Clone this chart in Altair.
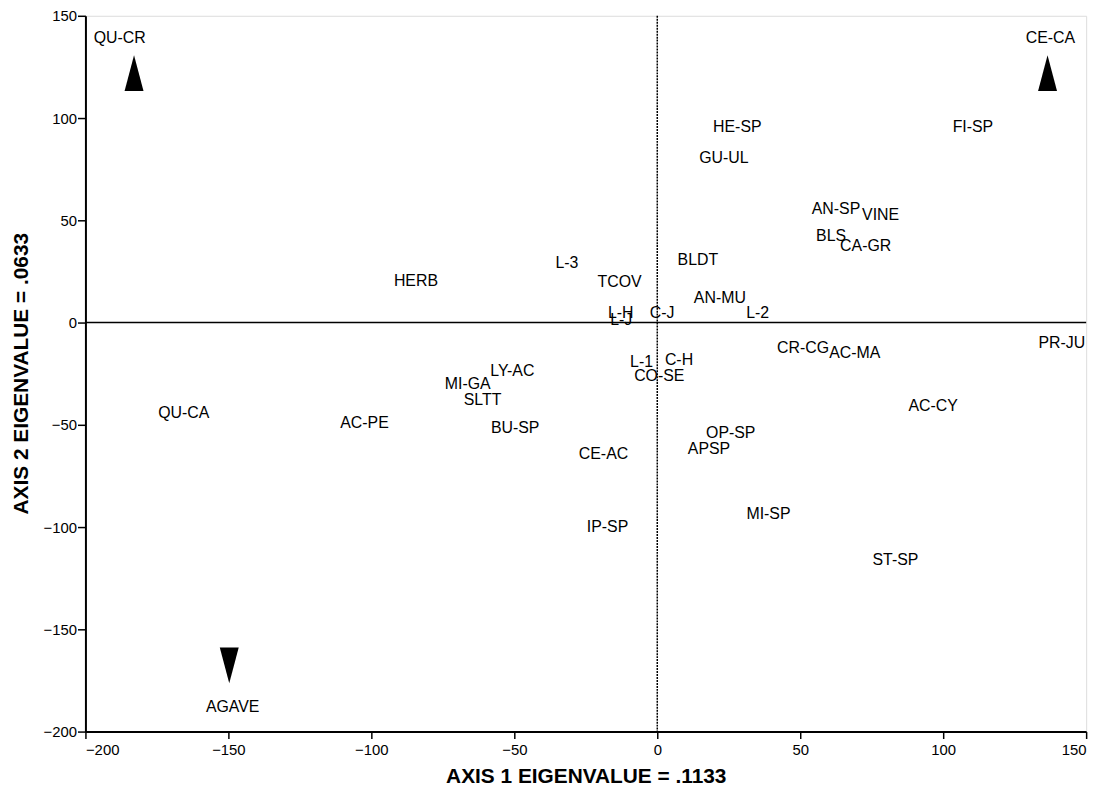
import altair as alt
import pandas as pd

# Species / variable labels and their ordination scores
labels = ["QU-CR", "CE-CA", "AGAVE", "HE-SP", "GU-UL", "FI-SP", "AN-SP", "VINE",
          "BLS", "CA-GR", "L-3", "BLDT", "TCOV", "HERB", "AN-MU", "L-H", "L-J",
          "C-J", "L-2", "CR-CG", "AC-MA", "PR-JU", "L-1", "C-H", "CO-SE", "AC-CY",
          "OP-SP", "APSP", "CE-AC", "LY-AC", "MI-GA", "SLTT", "AC-PE", "BU-SP",
          "QU-CA", "IP-SP", "MI-SP", "ST-SP"]
axis1 = [-188, 137.5, -148.5, 28, 23.3, 110.4, 62.5, 78.1,
         60.8, 72.9, -31.6, 14.2, -13.2, -84.4, 21.9, -12.8, -12.6,
         1.7, 35.1, 51, 69.1, 141.5, -5.5, 7.6, 0.7, 96.5,
         25.7, 18.1, -18.8, -50.7, -66.3, -61.1, -102.4, -49.7,
         -165.6, -17.4, 38.9, 83.3]
axis2 = [139, 139, -188, 95.5, 80.5, 95.7, 55.6, 52.7,
         42.5, 37.2, 29, 30.4, 19.8, 20.3, 12.1, 4.8, 1.0,
         4.8, 4.8, -12.6, -15, -10, -19.3, -18.4, -26.1, -40.6,
         -54.1, -61.8, -64.3, -23.7, -30, -37.7, -49.3, -51.7,
         -44.4, -100, -93.7, -115.9]

# Direction arrows (triangles)
arrow_x = [-183, 136.5, -149.7]
arrow_y = [122, 122, -167.6]
arrow_shape = ["up", "up", "down"]

x_ticks = [-200, -150, -100, -50, 0, 50, 100, 150]
y_ticks = [-200, -150, -100, -50, 0, 50, 100, 150]

FONT = "Liberation Sans"
UP = "M0,-1L0.53,1L-0.53,1Z"
DOWN = "M0,1L0.53,-1L-0.53,-1Z"

pts = pd.DataFrame({"label": labels, "a1": axis1, "a2": axis2})
arr = pd.DataFrame({"a1": arrow_x, "a2": arrow_y, "dir": arrow_shape})

xs = alt.Scale(domain=[-200, 150], nice=False, zero=False)
ys = alt.Scale(domain=[-200, 150], nice=False, zero=False)

xaxis = alt.Axis(values=x_ticks, title="AXIS 1 EIGENVALUE = .1133", grid=False,
                 tickSize=7, tickWidth=1.5, tickColor="black", domainColor="black",
                 domainWidth=2, labelFontSize=15, labelFont=FONT, labelColor="black",
                 labelPadding=4, titleFont=FONT, titleFontSize=21, titleFontWeight="bold",
                 titleColor="black", titleBaseline="alphabetic", titleX=504, titleY=51,
                 titleAlign="center")
yaxis = alt.Axis(values=y_ticks, title="AXIS 2 EIGENVALUE = .0633", grid=False,
                 tickSize=8, tickWidth=1.5, tickColor="black", domainColor="black",
                 domainWidth=2, labelFontSize=15, labelFont=FONT, labelColor="black",
                 labelPadding=1, titleFont=FONT, titleFontSize=21, titleFontWeight="bold",
                 titleColor="black", titleBaseline="alphabetic", titleX=-58, titleY=360,
                 titleAlign="center", titleAngle=270)

base_x = alt.X("a1:Q", scale=xs, axis=xaxis)
base_y = alt.Y("a2:Q", scale=ys, axis=yaxis)

text = alt.Chart(pts).mark_text(font=FONT, fontSize=16, color="black",
                                align="center", baseline="middle").encode(
    x=base_x, y=base_y, text="label:N")

hline = alt.Chart(pd.DataFrame({"v": [0]})).mark_rule(color="black", strokeWidth=1.5).encode(
    y=alt.Y("v:Q", scale=ys))
vline = alt.Chart(pd.DataFrame({"v": [0]})).mark_rule(color="black", strokeWidth=1.5,
                                                       strokeDash=[2, 1]).encode(
    x=alt.X("v:Q", scale=xs))

tri_up = alt.Chart(arr).transform_filter(alt.datum.dir == "up").mark_point(
    shape=UP, size=1296, filled=True, color="black", opacity=1).encode(x=base_x, y=base_y)
tri_down = alt.Chart(arr).transform_filter(alt.datum.dir == "down").mark_point(
    shape=DOWN, size=1296, filled=True, color="black", opacity=1).encode(x=base_x, y=base_y)

chart = alt.layer(hline, vline, tri_up, tri_down, text).properties(
    width=1008, height=721,
    autosize=alt.AutoSizeParams(type="none"),
    padding={"left": 78, "top": 5, "right": 20, "bottom": 56},
).configure_view(stroke="black", strokeWidth=2).configure(background="white")

chart.save("out.html", embed_options={"renderer": "svg", "actions": False})
